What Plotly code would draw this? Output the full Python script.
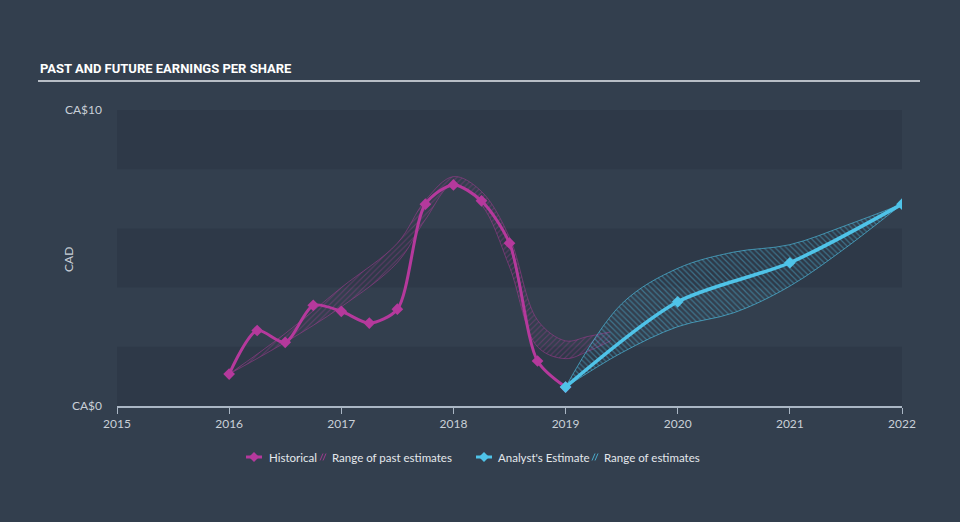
import plotly.graph_objects as go

# ---- data ----
hist_x = [2016.0, 2016.25, 2016.5, 2016.75, 2017.0, 2017.25, 2017.5, 2017.75, 2018.0, 2018.25, 2018.5, 2018.75, 2019.0]
hist_y = [1.08, 2.55, 2.15, 3.40, 3.20, 2.80, 3.27, 6.82, 7.47, 6.93, 5.50, 1.52, 0.64]

past_rng_x = [2016.0, 2016.5, 2017.0, 2017.5, 2017.75, 2018.0, 2018.25, 2018.5, 2018.75, 2019.0, 2019.2, 2019.4]
past_low = [1.08, 2.15, 3.35, 4.85, 6.30, 7.50, 6.80, 4.70, 2.00, 1.60, 1.85, 2.20]
past_high = [1.08, 2.45, 4.00, 5.50, 6.95, 7.75, 7.25, 5.70, 2.90, 2.20, 2.35, 2.50]

fc_x = [2019.0, 2020.0, 2021.0, 2022.0]
fc_y = [0.64, 3.52, 4.84, 6.82]

fc_rng_x = [2019.0, 2019.5, 2020.0, 2020.5, 2021.0, 2021.5, 2022.0]
fc_high = [0.64, 3.45, 4.65, 5.20, 5.45, 6.10, 6.82]
fc_low = [0.64, 1.80, 2.68, 3.15, 4.05, 5.35, 6.82]

x_ticks = [2015, 2016, 2017, 2018, 2019, 2020, 2021, 2022]
y_tickvals = [0, 10]
y_ticktext = ["CA$0", "CA$10"]

MAG = "#b5399c"
CYAN = "#4fc3e8"
BG = "#333f4e"
TXT = "#c9d0d8"
FONT = "Lato, 'Open Sans', sans-serif"

fig = go.Figure()

# past estimates band
fig.add_trace(go.Scatter(x=past_rng_x, y=past_low, mode="lines",
                         line=dict(color="rgba(181,57,156,0.6)", width=0.8, shape="spline"),
                         showlegend=False, hoverinfo="skip"))
fig.add_trace(go.Scatter(x=past_rng_x, y=past_high, mode="lines", fill="tonexty",
                         fillcolor="rgba(0,0,0,0)",
                         fillpattern=dict(shape="/", fgcolor="rgba(181,57,156,0.75)", bgcolor="rgba(0,0,0,0)",
                                          size=4, solidity=0.25),
                         line=dict(color="rgba(181,57,156,0.6)", width=0.8, shape="spline"),
                         showlegend=False, hoverinfo="skip"))

# forecast band
fig.add_trace(go.Scatter(x=fc_rng_x, y=fc_low, mode="lines",
                         line=dict(color="rgba(79,195,232,0.8)", width=0.8, shape="spline"),
                         showlegend=False, hoverinfo="skip"))
fig.add_trace(go.Scatter(x=fc_rng_x, y=fc_high, mode="lines", fill="tonexty",
                         fillcolor="rgba(0,0,0,0)",
                         fillpattern=dict(shape="\\", fgcolor="rgba(79,195,232,0.8)", bgcolor="rgba(0,0,0,0)",
                                          size=4, solidity=0.3),
                         line=dict(color="rgba(79,195,232,0.8)", width=0.8, shape="spline"),
                         showlegend=False, hoverinfo="skip"))

# historical line
fig.add_trace(go.Scatter(x=hist_x, y=hist_y, mode="lines+markers",
                         line=dict(color=MAG, width=3, shape="spline", smoothing=0.8),
                         marker=dict(symbol="diamond", size=9, color=MAG),
                         showlegend=False))

# analyst estimate line
fig.add_trace(go.Scatter(x=fc_x, y=fc_y, mode="lines+markers",
                         line=dict(color=CYAN, width=3.5, shape="spline", smoothing=0.8),
                         marker=dict(symbol="diamond", size=9, color=CYAN),
                         showlegend=False))

shapes = []
# horizontal bands
for lo, hi in [(0, 2), (4, 6), (8, 10)]:
    shapes.append(dict(type="rect", xref="x", yref="y", x0=2015, x1=2022, y0=lo, y1=hi,
                       fillcolor="rgba(20,28,38,0.15)", line=dict(width=0), layer="below"))

W, H = 960, 522
L, R, T, B = 117, 58, 110, 116
pw, ph = W - L - R, H - T - B

def px(x):
    return (x - L) / pw

def py(y):
    return (H - B - y) / ph

# title underline
shapes.append(dict(type="line", xref="paper", yref="paper", x0=px(38), x1=px(920), y0=py(81), y1=py(81),
                   line=dict(color="#b8bec6", width=2)))

# legend icons
ly = 457
def legend_marker(cx, color):
    out = [dict(type="line", xref="paper", yref="paper", x0=px(cx - 8), x1=px(cx + 8), y0=py(ly), y1=py(ly),
                line=dict(color=color, width=3))]
    d = 5
    path = (f"M {px(cx - d)} {py(ly)} L {px(cx)} {py(ly - d)} L {px(cx + d)} {py(ly)} "
            f"L {px(cx)} {py(ly + d)} Z")
    out.append(dict(type="path", xref="paper", yref="paper", path=path, fillcolor=color, line=dict(width=0)))
    return out

def hatch_icon(x0, color):
    out = []
    for k in range(2):
        xs = x0 + k * 3
        out.append(dict(type="line", xref="paper", yref="paper", x0=px(xs), x1=px(xs + 3), y0=py(ly + 3.5),
                        y1=py(ly - 3.5), line=dict(color=color, width=1)))
    return out

shapes += legend_marker(254, MAG)
shapes += hatch_icon(320, "rgba(181,57,156,0.8)")
shapes += legend_marker(484, CYAN)
shapes += hatch_icon(592, "rgba(79,195,232,0.8)")

annotations = [
    dict(text="<b>PAST AND FUTURE EARNINGS PER SHARE</b>", xref="paper", yref="paper", x=px(38), y=py(68),
         xanchor="left", yanchor="middle", showarrow=False,
         font=dict(family="Roboto, sans-serif", size=13, color="#ffffff")),
    dict(text="CAD", xref="paper", yref="paper", x=px(68), y=py(260), textangle=-90, showarrow=False,
         xanchor="center", yanchor="middle", font=dict(family=FONT, size=12, color=TXT)),
]
for txt, x0 in [("Historical", 267), ("Range of past estimates", 330), ("Analyst's Estimate", 496),
                ("Range of estimates", 602)]:
    annotations.append(dict(text=txt, xref="paper", yref="paper", x=px(x0), y=py(ly), xanchor="left",
                            yanchor="middle", showarrow=False, font=dict(family=FONT, size=11.5, color="#e4e8ec")))

fig.update_layout(
    width=W, height=H,
    margin=dict(l=L, r=R, t=T, b=B),
    paper_bgcolor=BG, plot_bgcolor=BG,
    font=dict(family=FONT, size=12, color=TXT),
    shapes=shapes, annotations=annotations,
    xaxis=dict(range=[2015, 2022], tickvals=x_ticks, showgrid=False, zeroline=False,
               showline=True, linecolor="#aab6c4", linewidth=1.5, ticks="outside", ticklen=6,
               tickcolor="#aab6c4", tickfont=dict(color=TXT, size=12)),
    yaxis=dict(range=[0, 10], tickvals=y_tickvals, ticktext=y_ticktext, showgrid=False, zeroline=False,
               showline=False, ticks="", ticklabelstandoff=14, tickfont=dict(color=TXT, size=12)),
)

fig.write_html("out.html")
